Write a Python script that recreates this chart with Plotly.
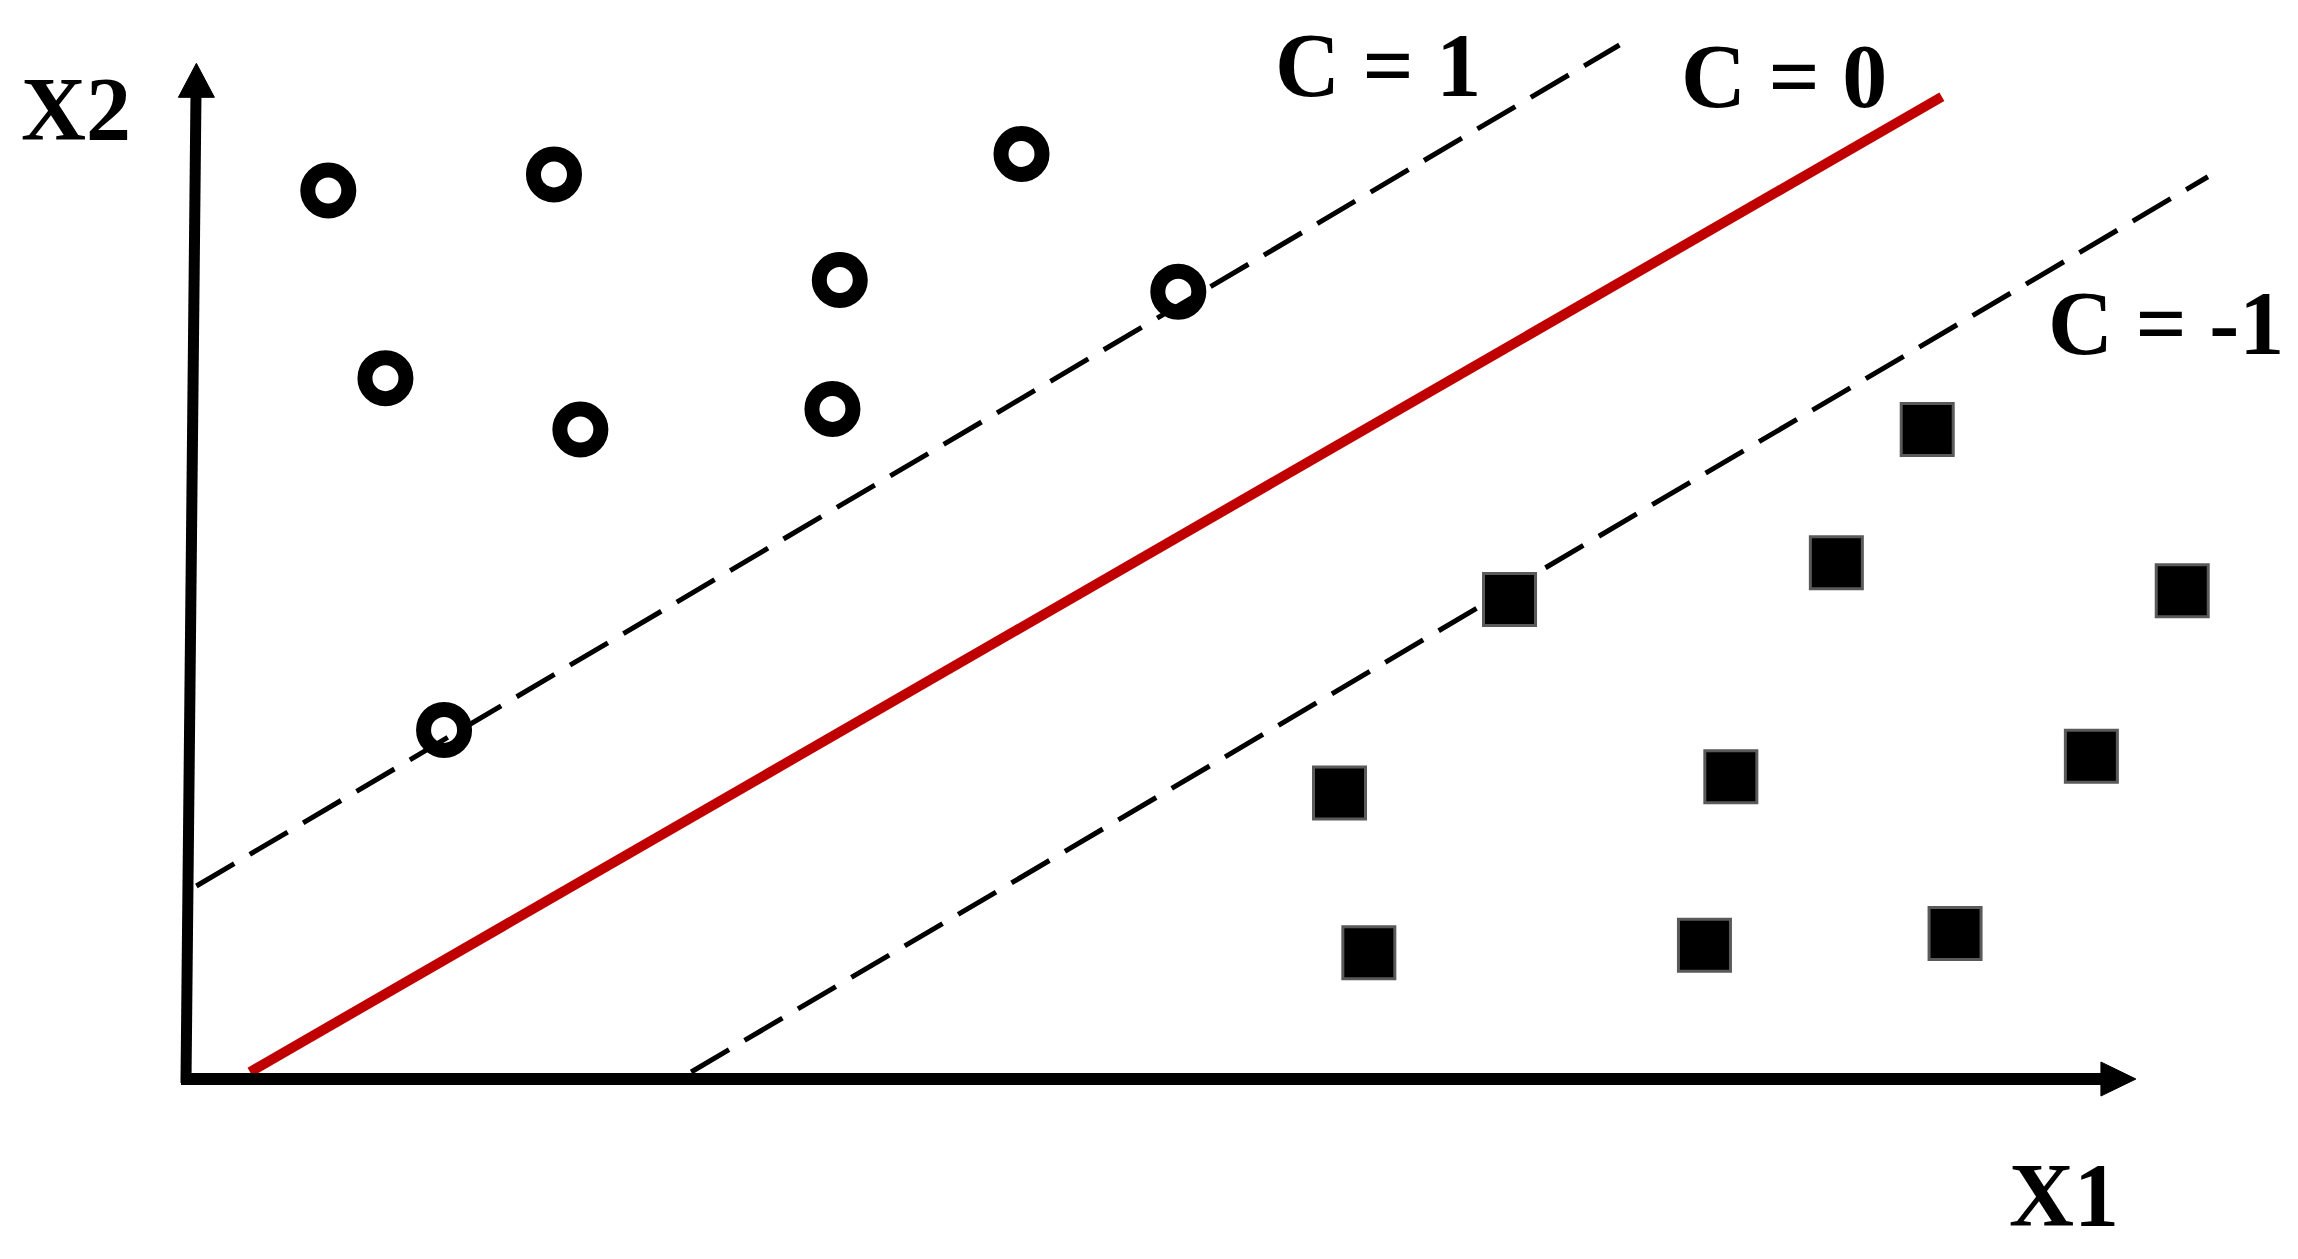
import plotly.graph_objects as go

# ---- data (diagram units: origin at the axes corner) ----
circle_x1 = [9.9, 25.3, 57.2, 44.8, 67.9, 13.8, 27.1, 44.3, 17.8]
circle_x2 = [60.5, 61.6, 63.0, 54.4, 53.6, 47.7, 44.2, 45.6, 23.7]

square_x1 = [119.0, 112.8, 136.4, 90.5, 78.9, 105.6, 130.2, 80.9, 103.8, 120.9]
square_x2 = [44.2, 35.1, 33.2, 32.6, 19.4, 20.5, 21.9, 8.5, 9.0, 9.8]

# hyperplane C = 0 and margins C = 1, C = -1 (two end points each)
c0_x1 = [4.56, 120.0]
c0_x2 = [0.36, 66.9]
cpos_x1 = [0.9, 98.0]
cpos_x2 = [13.05, 70.43]
cneg_x1 = [34.66, 138.15]
cneg_x2 = [0.36, 61.44]

# axis arrows
yaxis_line_x1 = [0.19, 0.87]
yaxis_line_x2 = [-0.4, 66.9]
yaxis_tip = (0.90, 69.18)
xaxis_line_x1 = [-0.15, 131.5]
xaxis_line_x2 = [-0.12, -0.12]
xaxis_tip = (133.24, -0.12)

labels = ["X2", "C = 1", "C = 0", "C = -1", "X1"]
label_x1 = [-7.3, 81.5, 109.2, 135.3, 128.3]
label_x2 = [66.0, 69.0, 68.25, 51.4, -8.04]

FONT = "Liberation Serif"

fig = go.Figure()

# margin lines (dashed)
for xs, ys in [(cpos_x1, cpos_x2), (cneg_x1, cneg_x2)]:
    fig.add_trace(go.Scatter(x=xs, y=ys, mode="lines",
                             line=dict(color="black", width=5, dash="44px,18px"),
                             hoverinfo="skip"))

# decision boundary
fig.add_trace(go.Scatter(x=c0_x1, y=c0_x2, mode="lines",
                         line=dict(color="#C00000", width=10),
                         hoverinfo="skip"))

# axes lines
fig.add_trace(go.Scatter(x=yaxis_line_x1, y=yaxis_line_x2, mode="lines",
                         line=dict(color="black", width=11), hoverinfo="skip"))
fig.add_trace(go.Scatter(x=xaxis_line_x1, y=xaxis_line_x2, mode="lines",
                         line=dict(color="black", width=12), hoverinfo="skip"))

# class points
fig.add_trace(go.Scatter(x=circle_x1, y=circle_x2, mode="markers",
                         marker=dict(symbol="circle-open", size=41,
                                     color="black", line=dict(color="black", width=15)),
                         hoverinfo="skip"))
fig.add_trace(go.Scatter(x=square_x1, y=square_x2, mode="markers",
                         marker=dict(symbol="square", size=52, color="black",
                                     line=dict(color="#5a5a5a", width=3)),
                         hoverinfo="skip"))

# arrow heads (pixel-sized paths anchored at data tips)
fig.add_shape(type="path", xref="x", yref="y",
              xsizemode="pixel", ysizemode="pixel",
              xanchor=yaxis_tip[0], yanchor=yaxis_tip[1],
              path="M0,0 L-18,-34 L18,-34 Z",
              fillcolor="black", line=dict(color="black", width=1))
fig.add_shape(type="path", xref="x", yref="y",
              xsizemode="pixel", ysizemode="pixel",
              xanchor=xaxis_tip[0], yanchor=xaxis_tip[1],
              path="M0,0 L-35,17 L-35,-17 Z",
              fillcolor="black", line=dict(color="black", width=1))

for t, x, y in zip(labels, label_x1, label_x2):
    fig.add_annotation(x=x, y=y, xref="x", yref="y", text="<b>" + t + "</b>",
                       showarrow=False, xanchor="center", yanchor="middle",
                       font=dict(family=FONT, size=90, color="black"))

fig.update_layout(
    width=2298, height=1259, autosize=False,
    margin=dict(l=0, r=0, t=0, b=0),
    paper_bgcolor="white", plot_bgcolor="white",
    showlegend=False, hovermode=False,
    xaxis=dict(range=[-12.5, 144.3], visible=False, fixedrange=True),
    yaxis=dict(range=[-12.4, 73.5], visible=False, fixedrange=True),
)

fig.write_html("out.html", config={"displayModeBar": False},
               post_script="document.body.style.margin='0px';document.body.style.overflow='hidden';")
